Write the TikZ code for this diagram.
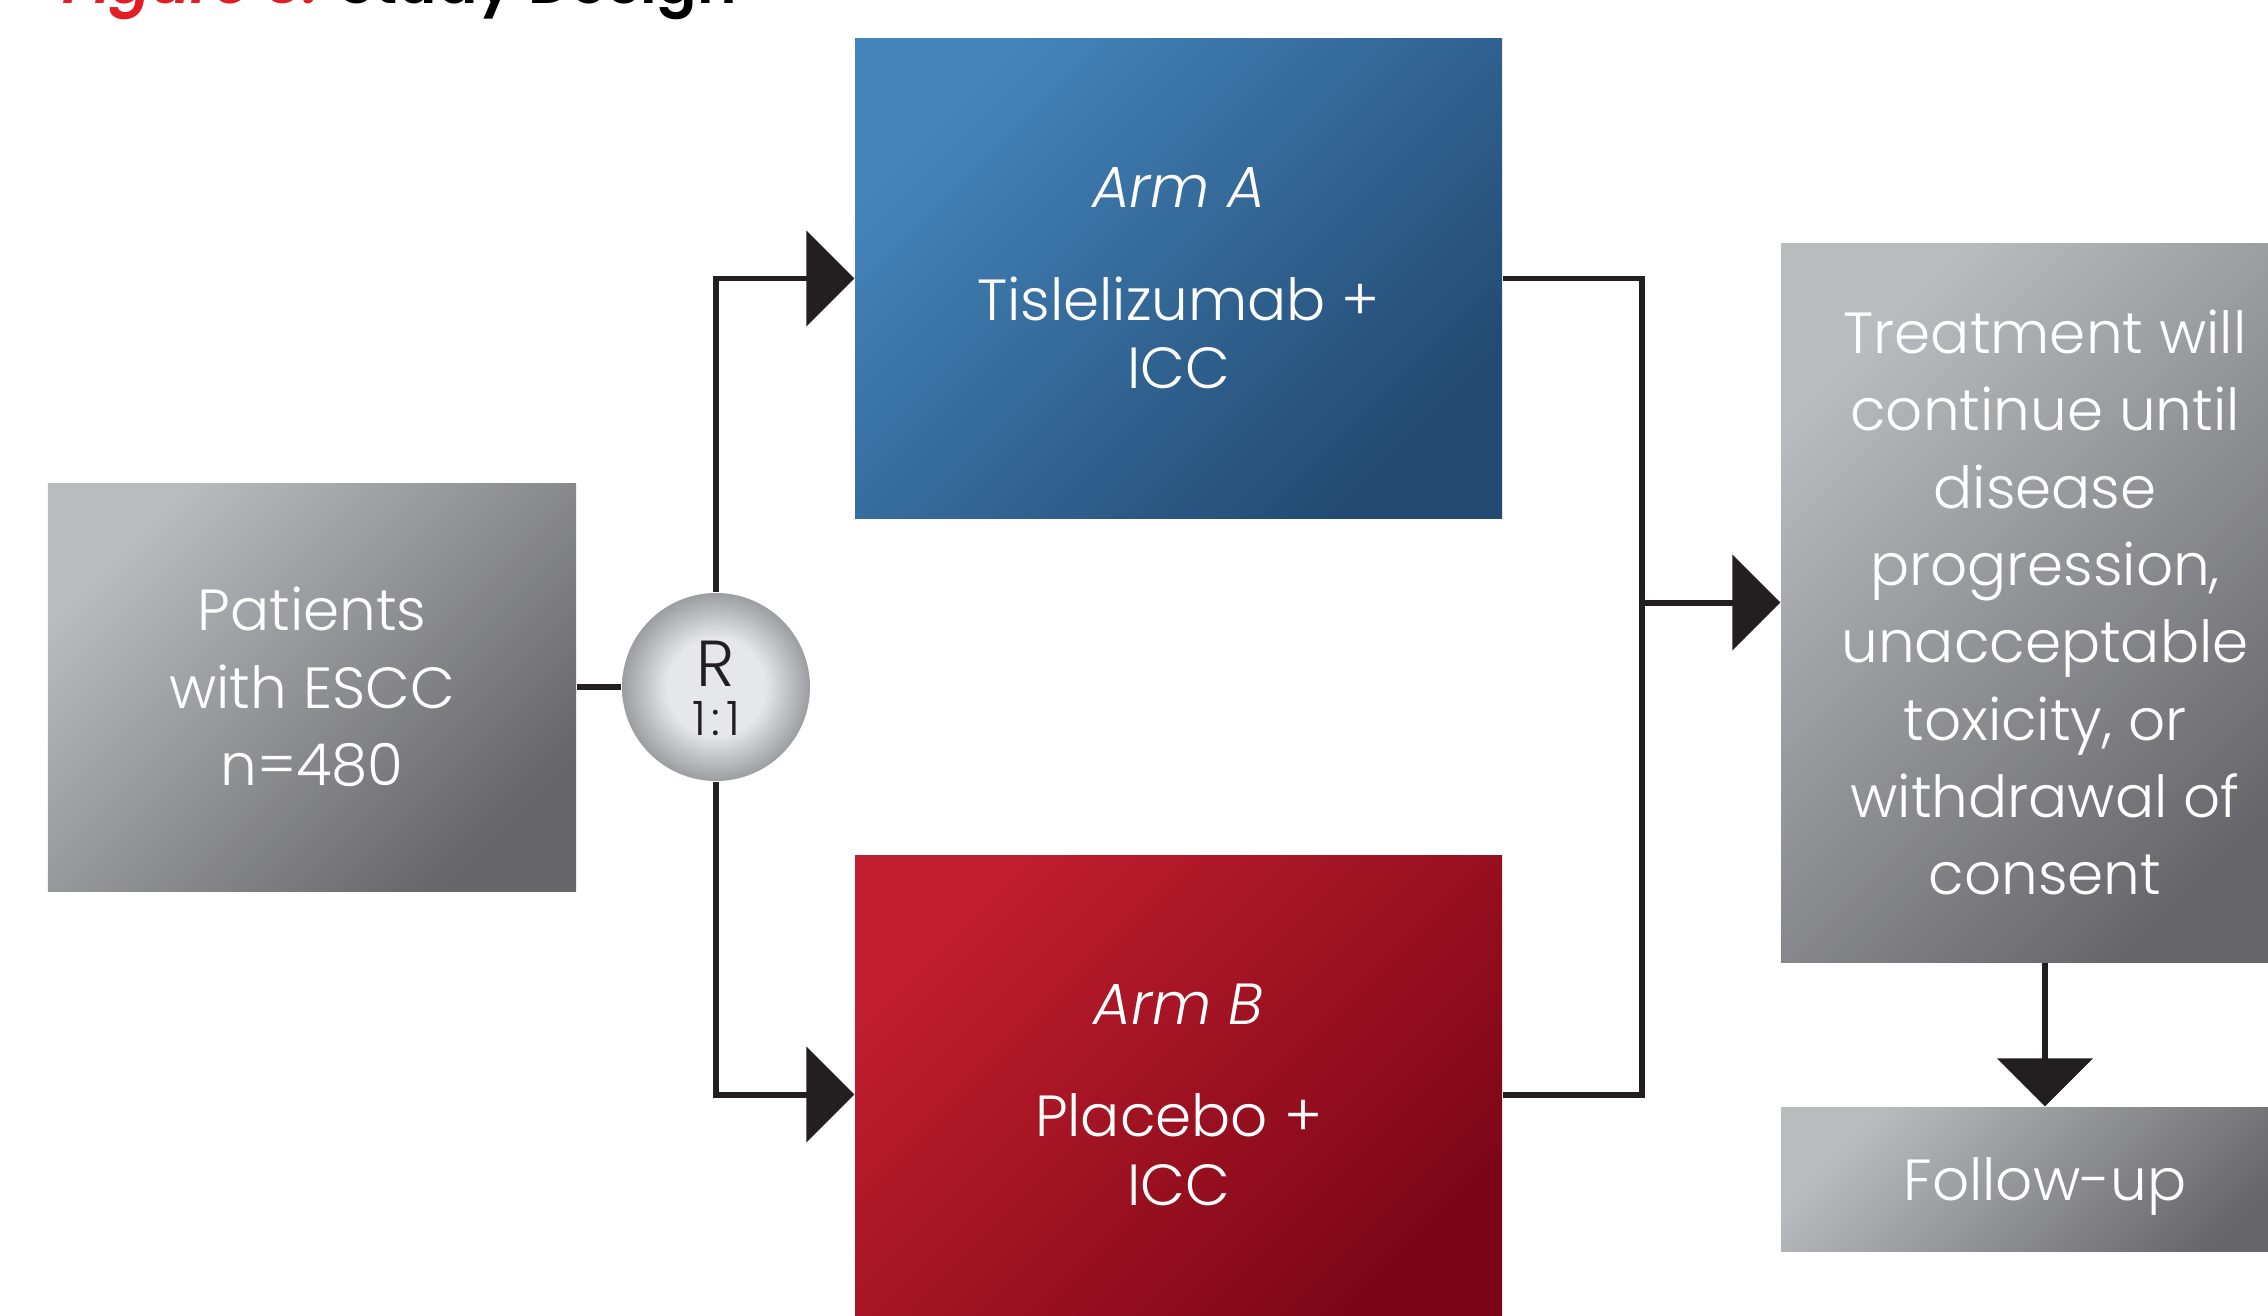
\documentclass[tikz,border=0pt]{standalone}
\usepackage{fontspec}
\setmainfont{Poppins}[UprightFont=* Light, ItalicFont=* Light Italic, BoldFont=* SemiBold, BoldItalicFont=* SemiBold Italic]
\usetikzlibrary{arrows.meta,positioning}

\definecolor{greytop}{RGB}{186,187,191}
\definecolor{greybot}{RGB}{102,102,106}
\definecolor{bluetop}{RGB}{68,132,186}
\definecolor{bluebot}{RGB}{34,74,114}
\definecolor{redtop}{RGB}{192,30,46}
\definecolor{redbot}{RGB}{124,6,22}
\definecolor{linegrey}{RGB}{35,31,32}
\definecolor{figred}{RGB}{228,28,38}
\definecolor{balllight}{RGB}{230,231,233}
\definecolor{balledge}{RGB}{156,157,161}

\pgfdeclareradialshading{randball}{\pgfpoint{0bp}{0bp}}{color(0bp)=(balllight);
  color(13bp)=(balllight); color(25bp)=(balledge); color(50bp)=(balledge)}

\tikzset{
  box/.style={rectangle, inner sep=0pt, align=center, text=white,
    font=\fontsize{16.5}{22}\selectfont},
  greybox/.style={box, top color=greytop, bottom color=greybot, shading angle=45},
  armbox/.style={box, minimum width=6.47cm, minimum height=4.79cm,
    font=\fontsize{16.5}{19.5}\selectfont},
  link/.style={line width=0.06cm, draw=linegrey, line join=miter},
  tip/.style={link, -{Triangle[length=0.48cm,width=0.95cm]}}
}

\begin{document}
\begin{tikzpicture}
  \useasboundingbox (0,0) rectangle (22.68,13.15);

  \node[anchor=base west, font=\fontsize{17}{20}\selectfont\bfseries] (title) at (0.5,13.11)
    {\textcolor{figred}{\textit{Figure 3:}} Study Design};

  \node[greybox, minimum width=5.28cm, minimum height=4.08cm] (pat) at (3.12,6.28)
    {Patients\\with ESCC\\n=480};

  \node[circle, minimum size=1.88cm, inner sep=0pt, shading=randball] (rand) at (7.16,6.28) {};
  \node[anchor=base, text=linegrey, font=\fontsize{18.5}{20}\selectfont] (rtext)
    at ([yshift=0.01cm]rand.center) {R};
  \node[anchor=base, text=linegrey, font=\fontsize{13.5}{14}\selectfont] (rratio)
    at ([yshift=-0.48cm]rand.center) {1\kern1.6pt:\kern1.6pt1};

  \node[armbox, top color=bluetop, bottom color=bluebot, shading angle=45] (armA)
    at (11.785,10.365) {\textit{Arm A}\\[12.5pt]Tislelizumab +\\ICC};
  \node[armbox, top color=redtop, bottom color=redbot, shading angle=45] (armB)
    at (11.785,2.205) {\textit{Arm B}\\[12.5pt]Placebo +\\ICC};

  \node[greybox, minimum width=5.28cm, minimum height=7.19cm] (treat) at (20.45,7.125)
    {Treatment will\\continue until\\disease\\progression,\\unacceptable\\toxicity, or\\withdrawal of\\consent};
  \node[greybox, minimum width=5.28cm, minimum height=1.44cm] (follow) at (20.45,1.36)
    {\rule{0pt}{0.57cm}Follow-up};

  \coordinate (join) at (16.42,7.125);

  \draw[link] (pat.east) -- (rand.west);
  \draw[tip] (rand.north) |- (armA.west);
  \draw[tip] (rand.south) |- (armB.west);
  \draw[link] (armA.east) -| (join) |- (armB.east);
  \draw[tip] (join) -- (treat.west);
  \draw[tip] (treat.south) -- (follow.north);
\end{tikzpicture}
\end{document}
